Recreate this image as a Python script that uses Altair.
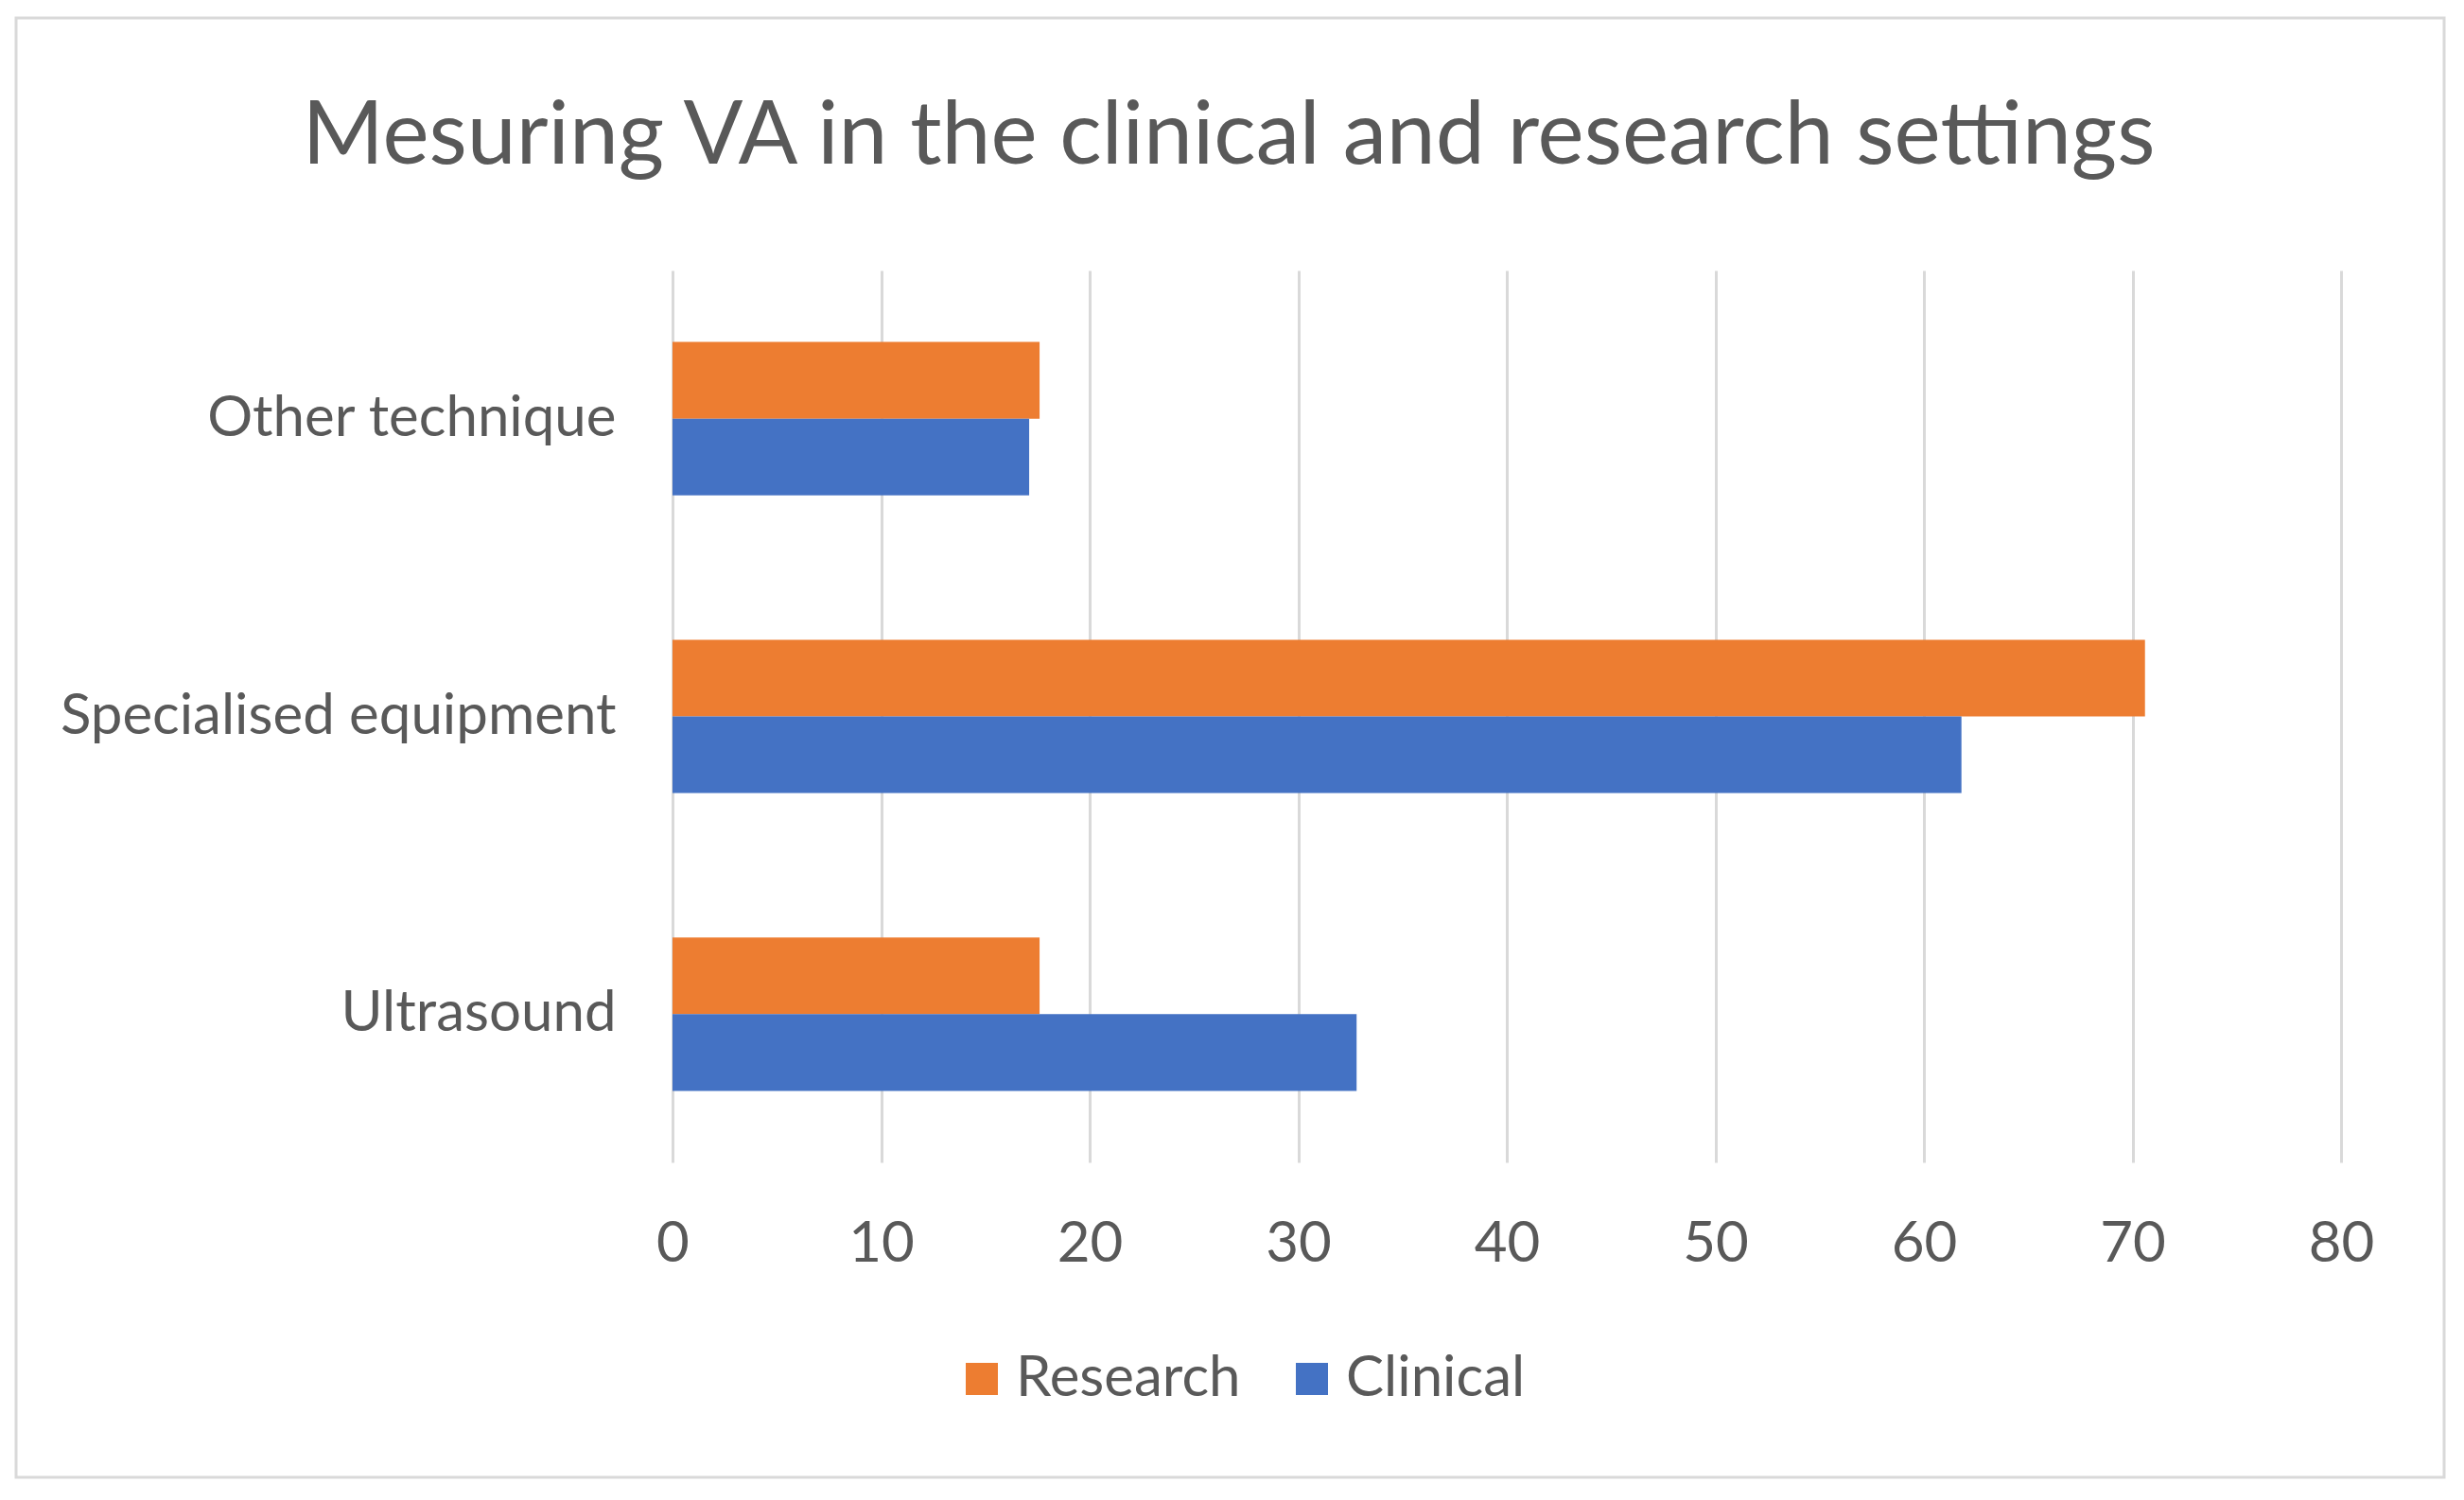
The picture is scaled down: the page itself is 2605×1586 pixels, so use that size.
import altair as alt
import pandas as pd

categories = ["Other technique", "Specialised equipment", "Ultrasound"]
series_names = ["Research", "Clinical"]
research_values = [17.6, 70.6, 17.6]
clinical_values = [17.1, 61.8, 32.8]
x_ticks = [0, 10, 20, 30, 40, 50, 60, 70, 80]
series_colors = ["#ED7D31", "#4472C4"]

rows = []
for cat, r, c in zip(categories, research_values, clinical_values):
    rows.append({"category": cat, "series": "Research", "value": r})
    rows.append({"category": cat, "series": "Clinical", "value": c})
df = pd.DataFrame(rows)

FONT = "Lato"
TEXT = "#595959"
FS = 60

bars = alt.Chart(df).mark_bar().encode(
    x=alt.X(
        "value:Q",
        scale=alt.Scale(domain=[0, 80], nice=False),
        axis=alt.Axis(
            values=x_ticks, title=None, grid=True, gridColor="#d9d9d9", gridWidth=3,
            domain=False, ticks=False, labelFontSize=FS, labelColor=TEXT,
            labelFont=FONT, labelPadding=57, labelFlush=False,
        ),
    ),
    y=alt.Y(
        "category:N", sort=categories,
        scale=alt.Scale(paddingInner=0.485, paddingOuter=0.24),
        axis=alt.Axis(
            title=None, domain=False, ticks=False, grid=False, labelFontSize=FS,
            labelColor=TEXT, labelFont=FONT, labelPadding=60, labelLimit=0,
        ),
    ),
    yOffset=alt.YOffset("series:N", sort=series_names),
    color=alt.Color(
        "series:N",
        scale=alt.Scale(domain=series_names, range=series_colors),
        legend=alt.Legend(
            title=None, orient="none", legendX=297, legendY=1142,
            direction="horizontal", symbolType="square", symbolSize=1156,
            symbolStrokeWidth=0, labelFontSize=FS, labelColor=TEXT, labelFont=FONT,
            labelOffset=6, columnPadding=45, padding=0, labelLimit=0,
        ),
    ),
)

frame = alt.Chart(alt.Data(values=[{"f": 1}])).mark_rect(
    fill="transparent", stroke="#d9d9d9", strokeWidth=3
).encode(
    x=alt.value(-694), x2=alt.value(1873), y=alt.value(-267), y2=alt.value(1276)
)

chart = alt.layer(frame, bars).properties(
    width=1764,
    height=943,
    title=alt.Title(
        "Mesuring VA in the clinical and research settings",
        fontSize=93, font=FONT, color=TEXT, fontWeight="normal",
        anchor="middle", dx=-294, dy=179,
    ),
    autosize=alt.AutoSizeParams(type="none"),
    padding={"left": 703, "top": 278, "right": 115, "bottom": 340},
).configure_view(stroke=None)

chart.save("out.html", embed_options={"renderer": "svg", "actions": False})
